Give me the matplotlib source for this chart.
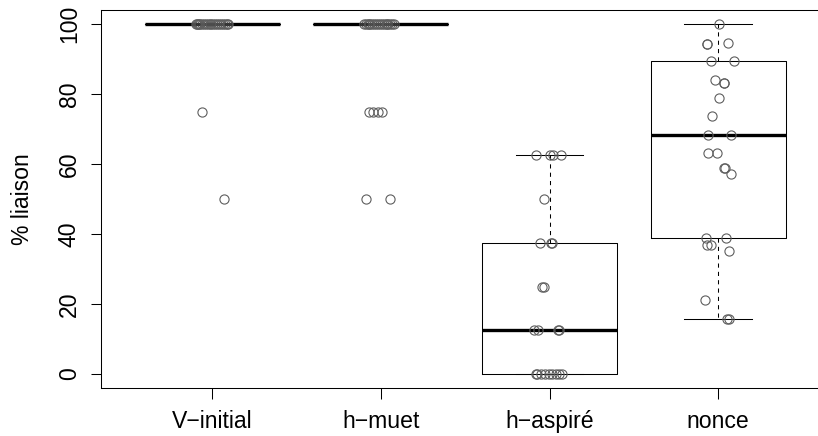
import matplotlib
matplotlib.use("Agg")
import matplotlib.pyplot as plt

plt.rcParams['font.family'] = ['Liberation Sans', 'DejaVu Sans']

# ---- data ----
categories = ['V\u2212initial', 'h\u2212muet', 'h\u2212aspir\u00e9', 'nonce']

# box statistics
box_q1 = [100, 100, 0, 38.9]
box_med = [100, 100, 12.5, 68.4]
box_q3 = [100, 100, 37.5, 89.5]
box_whislo = [100, 100, 0, 15.8]
box_whishi = [100, 100, 62.5, 100]

# individual (jittered) observations: values and horizontal jitter (category units)
v_initial_vals = [100] * 20 + [75, 50]
v_initial_jit = [-0.097, -0.085, -0.073, -0.061, -0.049, -0.037, -0.026, -0.014,
                 0.004, 0.016, 0.028, 0.040, 0.052, 0.063, 0.075, 0.087, 0.093,
                 -0.079, -0.008, -0.091, -0.063, 0.071]

h_muet_vals = [100] * 18 + [75, 75, 75, 75, 50, 50]
h_muet_jit = [-0.098, -0.089, -0.077, -0.065, -0.053, -0.042, -0.030, -0.018,
              -0.006, 0.006, 0.018, 0.030, 0.042, 0.053, 0.065, 0.077, -0.071, 0.036,
              -0.071, -0.046, -0.020, 0.004, -0.091, 0.053]

h_aspire_vals = [62.5, 62.5, 62.5, 62.5, 50, 37.5, 37.5, 37.5, 25, 25,
                 12.5, 12.5, 12.5, 12.5, 0, 0, 0, 0, 0, 0, 0, 0, 0]
h_aspire_jit = [-0.081, 0.004, 0.018, 0.069, -0.033, -0.059, 0.010, 0.016, -0.046, -0.034,
                -0.091, -0.070, 0.052, 0.058, -0.082, -0.073, -0.049, -0.026, -0.002,
                0.016, 0.040, 0.058, 0.072]

nonce_vals = [100, 94.4, 94.4, 94.7, 89.5, 89.5, 84.2, 83.3, 83.3, 78.9, 73.7,
              68.4, 68.4, 63.2, 63.2, 58.8, 58.8, 57.1, 38.9, 38.9, 36.8, 36.8,
              35.3, 21.1, 15.8, 15.8]
nonce_jit = [0.006, -0.067, -0.063, 0.059, -0.042, 0.093, -0.018, 0.033, 0.037, 0.006,
             -0.037, -0.059, 0.075, -0.059, -0.004, 0.037, 0.040, 0.075, -0.073, 0.046,
             -0.067, -0.040, 0.063, -0.075, 0.053, 0.062]

y_ticks = [0, 20, 40, 60, 80, 100]
y_label = '% liaison'

# ---- figure ----
W, H = 818, 436
fig = plt.figure(figsize=(W / 100, H / 100), dpi=100)
ax_left, ax_right, ax_top, ax_bottom = 101, 829.4, 10.3, 388
ax = fig.add_axes([ax_left / W, 1 - ax_bottom / H,
                   (ax_right - ax_left) / W, (ax_bottom - ax_top) / H])

positions = list(range(1, len(categories) + 1))
stats = []
for i in range(len(categories)):
    stats.append(dict(med=box_med[i], q1=box_q1[i], q3=box_q3[i],
                      whislo=box_whislo[i], whishi=box_whishi[i], fliers=[]))

lw = 0.75
ax.bxp(stats, positions=positions, widths=0.8, capwidths=0.4, showfliers=False,
       boxprops=dict(color='black', linewidth=lw),
       medianprops=dict(color='black', linewidth=2.4, solid_capstyle='butt'),
       whiskerprops=dict(color='black', linewidth=lw, linestyle=(0, (4, 4))),
       capprops=dict(color='black', linewidth=lw))

groups = [(v_initial_vals, v_initial_jit), (h_muet_vals, h_muet_jit),
          (h_aspire_vals, h_aspire_jit), (nonce_vals, nonce_jit)]
for pos, (vals, jit) in zip(positions, groups):
    xs = [pos + j for j in jit]
    ax.plot(xs, vals, linestyle='none', marker='o', markersize=6.6,
            markerfacecolor='none', markeredgecolor='#5e5e5e', markeredgewidth=0.8,
            zorder=3)

ax.set_xlim(0.34, 4.66)
ax.set_ylim(-4, 104)
ax.set_xticks(positions)
ax.set_xticklabels(categories)
ax.set_yticks(y_ticks)
ax.set_yticklabels([str(t) for t in y_ticks], rotation=90, va='center')

ax.tick_params(axis='x', length=8, width=lw, labelsize=16.6, pad=7.5, color='black')
ax.tick_params(axis='y', length=7.5, width=lw, labelsize=16.6, pad=7, color='black')
for s in ax.spines.values():
    s.set_linewidth(lw)
    s.set_color('black')

fig.text(23 / W, 1 - 199.2 / H, y_label, rotation=90, ha='center', va='center',
         fontsize=16.6)

fig.savefig('out.png', dpi=100)
